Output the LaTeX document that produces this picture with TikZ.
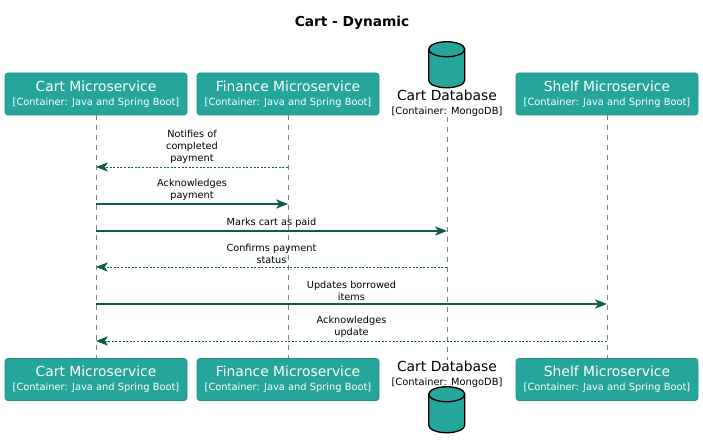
\documentclass[tikz,border=0pt]{standalone}
\usepackage{fontspec}
\setmainfont{DejaVu Sans}
\usetikzlibrary{arrows.meta}

\definecolor{tealbox}{HTML}{26A69A}
\definecolor{tealedge}{HTML}{1F8F84}
\definecolor{msgcol}{HTML}{0D5B4C}

\begin{document}
\begin{tikzpicture}[
  x=0.75pt, y=-0.75pt,
  ttl/.style={font=\fontsize{10.3}{12}\selectfont\bfseries},
  ctr/.style={rectangle, rounded corners=2pt, draw=tealedge, fill=tealbox, text=white,
              minimum width=136.5pt, minimum height=31.5pt, align=center, inner sep=0pt,
              font=\fontsize{10.4}{10.5}\selectfont},
  dbbox/.style={rectangle, minimum width=27pt, minimum height=34.5pt, inner sep=0pt},
  dbline/.style={draw=black, line width=1pt, fill=tealbox},
  dblbl/.style={align=center, inner sep=0pt, font=\fontsize{10.4}{10.5}\selectfont},
  life/.style={draw=gray, dash pattern=on 3.75pt off 3.75pt, line width=0.5pt},
  msg/.style={draw=msgcol, line width=0.9pt, -{Stealth[length=9pt, width=7pt, inset=2.5pt]}},
  reply/.style={msg, line width=0.6pt, dash pattern=on 1.5pt off 1.2pt},
  lbl/.style={align=center, inner sep=2pt, font=\fontsize{7.3}{9}\selectfont},
]
\useasboundingbox (0,0) rectangle (703,448);

% ---- Title ----
\node[ttl] (title) at (352,23) {Cart - Dynamic};

% ---- Top participants ----
\node[ctr] (cartT) at (96,94) {Cart Microservice\\{\fontsize{7.4}{8}\selectfont[Container: Java and Spring Boot]}};
\node[ctr] (finT) at (288,94) {Finance Microservice\\{\fontsize{7.4}{8}\selectfont[Container: Java and Spring Boot]}};
\node[dbbox] (dbT) at (447,65) {};
\node[dblbl] (dbTl) at (447,103) {Cart Database\\{\fontsize{7.4}{8}\selectfont[Container: MongoDB]}};
\node[ctr] (shelfT) at (607,94) {Shelf Microservice\\{\fontsize{7.4}{8}\selectfont[Container: Java and Spring Boot]}};

% ---- Bottom participants ----
\node[ctr] (cartB) at (96,379.5) {Cart Microservice\\{\fontsize{7.4}{8}\selectfont[Container: Java and Spring Boot]}};
\node[ctr] (finB) at (288,379.5) {Finance Microservice\\{\fontsize{7.4}{8}\selectfont[Container: Java and Spring Boot]}};
\node[dblbl] (dbBl) at (447,374) {Cart Database\\{\fontsize{7.4}{8}\selectfont[Container: MongoDB]}};
\node[dbbox] (dbB) at (447,410) {};
\node[ctr] (shelfB) at (607,379.5) {Shelf Microservice\\{\fontsize{7.4}{8}\selectfont[Container: Java and Spring Boot]}};

% ---- Database cylinders ----
\foreach \n in {dbT, dbB} {
  \draw[dbline] (\n.north west) ++(0,7.5) arc[start angle=180, end angle=360, x radius=18, y radius=7.5]
    -- ++(0,31) arc[start angle=0, end angle=180, x radius=18, y radius=7.5] -- cycle;
  \draw[dbline, fill=none] (\n.north west) ++(0,7.5) arc[start angle=180, end angle=0, x radius=18, y radius=7.5];
}

% ---- Lifelines ----
\draw[life] (cartT) -- (cartB);
\draw[life] (finT) -- (finB);
\draw[life] (dbTl) -- (dbBl);
\draw[life] (shelfT) -- (shelfB);

% ---- Messages ----
\coordinate (y1) at (0,167);
\coordinate (y2) at (0,204);
\coordinate (y3) at (0,231);
\coordinate (y4) at (0,267);
\coordinate (y5) at (0,304);
\coordinate (y6) at (0,341);

\draw[reply] (finT |- y1) -- node[lbl, above] {Notifies of\\completed\\payment} (cartT |- y1);
\draw[msg] (cartT |- y2) -- node[lbl, above] {Acknowledges\\payment} (finT |- y2);
\draw[msg] (cartT |- y3) -- node[lbl, above] {Marks cart as paid} (dbT |- y3);
\draw[reply] (dbT |- y4) -- node[lbl, above] {Confirms payment\\status} (cartT |- y4);
\draw[msg] (cartT |- y5) -- node[lbl, above] {Updates borrowed\\items} (shelfT |- y5);
\draw[reply] (shelfT |- y6) -- node[lbl, above] {Acknowledges\\update} (cartT |- y6);

\end{tikzpicture}
\end{document}
